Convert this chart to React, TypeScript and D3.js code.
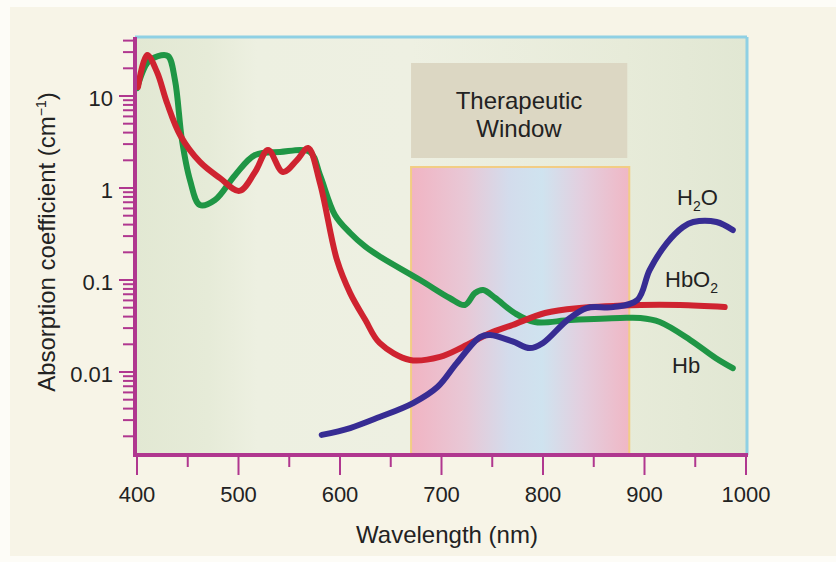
import * as React from "react"
import * as d3 from "d3"

// wavelength (nm) and absorption coefficient (cm^-1)
const hbNm = [400, 410.8, 420.7, 430.5, 437.4, 444.3, 452.2, 462, 476.8, 496.6, 516.3, 540.9, 570.4, 580.3, 595, 610, 625, 640, 679, 708, 723, 733, 741, 753, 772, 792, 827, 876, 896, 915, 945, 970, 987]
const hbVal = [12.2, 23.4, 27.2, 27.2, 14.9, 3.32, 1.22, 0.653, 0.741, 1.38, 2.28, 2.46, 2.46, 1.38, 0.509, 0.324, 0.23, 0.178, 0.1, 0.0637, 0.0535, 0.0722, 0.0778, 0.0637, 0.0438, 0.0349, 0.0367, 0.0386, 0.0386, 0.0349, 0.0223, 0.0142, 0.011]

const hbo2Nm = [401, 409.9, 419.7, 429.6, 442.4, 462, 481.8, 501, 516.3, 529.1, 543.8, 557.6, 568.5, 580.3, 597, 610, 625, 639, 669, 698.5, 721, 748, 770, 802, 836, 896, 935, 979]
const hbo2Val = [12.5, 27.9, 18.2, 8.39, 3.77, 1.92, 1.28, 0.93, 1.49, 2.59, 1.49, 2.01, 2.72, 1.13, 0.165, 0.072, 0.0367, 0.0207, 0.0135, 0.0146, 0.0187, 0.0265, 0.0324, 0.0438, 0.0496, 0.0535, 0.0535, 0.0509]

const h2oNm = [582, 610, 639, 672, 696, 715, 738, 748, 770, 787, 800, 824, 843, 869, 893, 905, 922, 938, 948, 971, 987]
const h2oVal = [0.00207, 0.00246, 0.00324, 0.0046, 0.00687, 0.0125, 0.024, 0.0252, 0.0215, 0.0182, 0.0207, 0.0367, 0.0496, 0.0507, 0.0606, 0.128, 0.252, 0.377, 0.427, 0.427, 0.349]

const xTicks = [400, 500, 600, 700, 800, 900, 1000]
const yTicks = [10, 1, 0.1, 0.01]
const yTickLabels = ["10", "1", "0.1", "0.01"]
const windowNm = [670, 885]

const W = 836
const H = 562

export default function App() {
  const x = d3.scaleLinear().domain([400, 1000]).range([137, 746])
  const y = d3.scaleLog().domain([0.01, 10]).range([372, 96])

  const plotL = 135, plotR = 747, plotT = 37, plotB = 455

  const line = d3.line<[number, number]>()
    .x(d => x(d[0]))
    .y(d => y(d[1]))
    .curve(d3.curveCatmullRom.alpha(0.5))

  const zip = (a: number[], b: number[]) => a.map((v, i) => [v, b[i]] as [number, number])

  // log minor ticks
  const minor: number[] = []
  for (let e = -3; e <= 1; e++) {
    for (let m = 1; m <= 9; m++) {
      const v = m * Math.pow(10, e)
      const py = y(v)
      if (py >= plotT + 2 && py <= plotB - 4) minor.push(v)
    }
  }
  const xMinor = d3.range(450, 1000, 100)

  const magenta = "#b0378f"
  const wx0 = x(windowNm[0]), wx1 = x(windowNm[1])

  return (
    <svg width={W} height={H} style={{ position: "absolute", left: 0, top: 0 }}
      fontFamily="Liberation Sans, Arial, sans-serif">
      <defs>
        <linearGradient id="plotBg" x1="0" x2="1" y1="0" y2="0">
          <stop offset="0%" stopColor="#e2e8d3" />
          <stop offset="12%" stopColor="#e6ebd8" />
          <stop offset="20%" stopColor="#edf0e1" />
          <stop offset="45%" stopColor="#eef0e2" />
          <stop offset="80%" stopColor="#e7ebd9" />
          <stop offset="100%" stopColor="#e1e7d3" />
        </linearGradient>
        <linearGradient id="winBg" x1="0" x2="1" y1="0" y2="0">
          <stop offset="0%" stopColor="#f1b4c3" />
          <stop offset="25%" stopColor="#e8c8d6" />
          <stop offset="45%" stopColor="#d3dcec" />
          <stop offset="60%" stopColor="#cfe3ef" />
          <stop offset="78%" stopColor="#e3cfdf" />
          <stop offset="100%" stopColor="#f0b7c5" />
        </linearGradient>
      </defs>
      <rect x={0} y={0} width={W} height={H} fill="#fdfcf7" />
      <rect x={10} y={7} width={W - 10} height={549} fill="#f7f4e7" />

      <rect x={plotL} y={plotT} width={plotR - plotL} height={plotB - plotT} fill="url(#plotBg)" />

      <rect x={wx0} y={63} width={x(885) - wx0 - 2} height={95} fill="#dcd7c3" />
      <text x={519} y={109} fontSize={24} textAnchor="middle" fill="#222">Therapeutic</text>
      <text x={519} y={137} fontSize={24} textAnchor="middle" fill="#222">Window</text>

      <rect x={wx0} y={167} width={wx1 - wx0} height={plotB - 167} fill="url(#winBg)"
        stroke="#f2cd84" strokeWidth={2} />

      <line x1={plotL} x2={plotR} y1={plotT} y2={plotT} stroke="#8fd0e4" strokeWidth={3} />
      <line x1={plotR} x2={plotR} y1={plotT} y2={plotB} stroke="#8fd0e4" strokeWidth={3} />

      <path d={line(zip(hbNm, hbVal)) || ""} fill="none" stroke="#1f9645" strokeWidth={6} strokeLinecap="round" strokeLinejoin="round" />
      <path d={line(zip(hbo2Nm, hbo2Val)) || ""} fill="none" stroke="#cf2330" strokeWidth={6} strokeLinecap="round" strokeLinejoin="round" />
      <path d={line(zip(h2oNm, h2oVal)) || ""} fill="none" stroke="#372c93" strokeWidth={6} strokeLinecap="round" strokeLinejoin="round" />

      {/* left axis */}
      <line x1={plotL} x2={plotL} y1={plotT} y2={plotB + 2} stroke={magenta} strokeWidth={4} />
      {minor.map((v, i) => (
        <line key={"m" + i} x1={plotL - 12} x2={plotL} y1={y(v)} y2={y(v)} stroke={magenta} strokeWidth={2} />
      ))}
      {yTicks.map((v, i) => (
        <g key={"yt" + i}>
          <line x1={plotL - 16} x2={plotL} y1={y(v)} y2={y(v)} stroke={magenta} strokeWidth={2} />
          <text x={113} y={y(v) + 2} dy="0.35em" fontSize={22} textAnchor="end" fill="#222">{yTickLabels[i]}</text>
        </g>
      ))}

      {/* bottom axis */}
      <line x1={plotL - 2} x2={plotR + 1} y1={plotB} y2={plotB} stroke={magenta} strokeWidth={4} />
      {xTicks.map(v => (
        <g key={"xt" + v}>
          <line x1={x(v)} x2={x(v)} y1={plotB} y2={plotB + 20} stroke={magenta} strokeWidth={2} />
          <text x={x(v)} y={502} fontSize={22} textAnchor="middle" fill="#222">{v}</text>
        </g>
      ))}
      {xMinor.map(v => (
        <line key={"xm" + v} x1={x(v)} x2={x(v)} y1={plotB} y2={plotB + 12} stroke={magenta} strokeWidth={2} />
      ))}

      <text x={447} y={543} fontSize={24} textAnchor="middle" fill="#222">Wavelength (nm)</text>
      <text transform="translate(55,242) rotate(-90)" fontSize={24} textAnchor="middle" fill="#222">
        Absorption coefficient (cm<tspan fontSize={14} dy={-9}>−1</tspan><tspan dy={9}>)</tspan>
      </text>

      <text x={677} y={205} fontSize={22} fill="#222">H<tspan fontSize={14} dy={6}>2</tspan><tspan dy={-6}>O</tspan></text>
      <text x={665} y={287} fontSize={22} fill="#222">HbO<tspan fontSize={14} dy={6}>2</tspan></text>
      <text x={672} y={373} fontSize={22} fill="#222">Hb</text>
    </svg>
  )
}
